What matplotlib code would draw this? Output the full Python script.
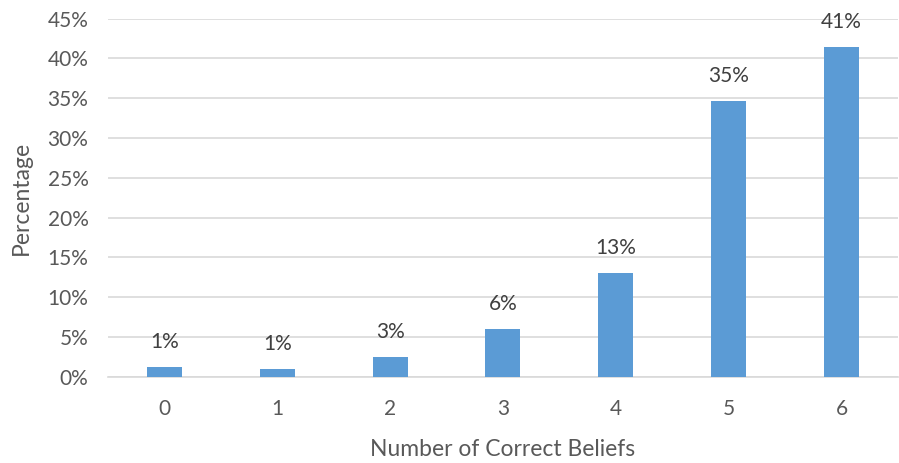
import matplotlib.pyplot as plt
import numpy as np

# Share of respondents by number of correct beliefs
beliefs = ['0', '1', '2', '3', '4', '5', '6']
percent = [1.2, 1.05, 2.5, 6.0, 13.0, 34.7, 41.4]
yticks = [0, 5, 10, 15, 20, 25, 30, 35, 40, 45]

bar_color = '#5B9BD5'
text_color = '#595959'
grid_color = '#D9D9D9'

plt.rcParams['font.family'] = ['Lato', 'DejaVu Sans']

fig = plt.figure(figsize=(8.99, 4.63), dpi=100)
ax = fig.add_axes([0.120, 0.186, 0.879, 0.774])

x = np.arange(len(beliefs))
ax.bar(x, percent, width=0.31, color=bar_color, zorder=3)

# Labels above each bar, rounded half up
for xi, v in zip(x, percent):
    ax.annotate('%d%%' % int(v + 0.5), (xi, v), xytext=(0, 18),
                textcoords='offset points', ha='center', va='center',
                fontsize=15, color='#404040')

ax.set_xlim(-0.5, len(beliefs) - 0.5)
ax.set_ylim(0, 45)
ax.set_xticks(x)
ax.set_xticklabels(beliefs)
ax.set_yticks(yticks)
ax.set_yticklabels(['%d%%' % t for t in yticks])
ax.yaxis.grid(True, color=grid_color, linewidth=1.2, zorder=0)
ax.set_axisbelow(True)

for s in ['top', 'right', 'left']:
    ax.spines[s].set_visible(False)
ax.spines['bottom'].set_color(grid_color)
ax.spines['bottom'].set_linewidth(1.2)

ax.tick_params(axis='both', length=0, labelsize=15, labelcolor=text_color)
ax.tick_params(axis='x', pad=16)
ax.tick_params(axis='y', pad=14)

ax.set_xlabel('Number of Correct Beliefs', fontsize=16.5, color=text_color, labelpad=14)
ax.set_ylabel('Percentage', fontsize=16.5, color=text_color)
ax.yaxis.set_label_coords(-0.096, 0.5)

plt.savefig('out.png', dpi=100)
plt.close(fig)
